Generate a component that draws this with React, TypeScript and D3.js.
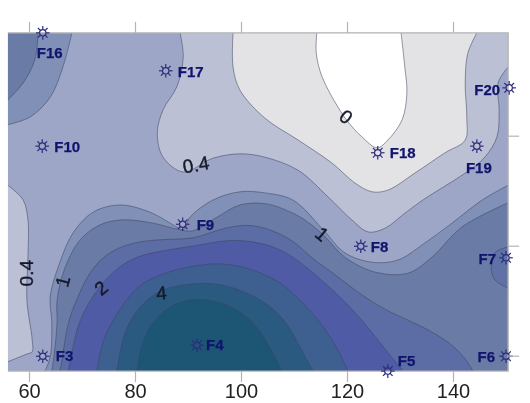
import React, { useEffect, useRef } from "react";
import * as d3 from "d3";

type Pt = [number, number];

const xTicks = [60, 80, 100, 120, 140];
const yTicks = [20, 40, 60];

// contour lines, in data units
const lineWhite: Pt[] = [[114.3, 78.7], [114.2, 75], [115.3, 70.7], [118.3, 65.2], [120.2, 62.5], [122.8, 59.8], [125.7, 57.8], [127.7, 59.2], [130.4, 62.9], [131.3, 67.8], [130.9, 72.5], [130.2, 78.7]];
const lineZero: Pt[] = [[98.5, 78.7], [98.5, 72.5], [99.8, 68.3], [104.5, 63.2], [110.8, 59.2], [117.2, 55], [121.5, 51.4], [124.7, 49.8], [127.7, 50.1], [132.8, 53.2], [138.5, 56.9], [142.3, 59.2], [142.6, 63.4], [142.3, 69.6], [142.8, 75], [144.5, 78.7]];
const lineLight: Pt[] = [[88.5, 78.7], [89.1, 74.3], [87.9, 68.9], [85.3, 64.7], [84.2, 60.5], [85.3, 56.1], [89.1, 53.4], [94.7, 55.9], [99.8, 56.7], [104.5, 56.1], [110.8, 53.7], [116.4, 48.9], [120.9, 44.7], [124, 42.5], [127.2, 43.2], [130.9, 45.9], [134.3, 48.3], [137.9, 50.5], [142.3, 53.2], [146, 56.1], [148.3, 59.8], [148.7, 64.7], [148.5, 69.6], [150.4, 72.5]];
const lineLeftLight: Pt[] = [[56, 51], [58.9, 48.3], [59.8, 44.7], [59.8, 37.9], [59.6, 30.1], [60.6, 22.9], [60.6, 20.7], [59.6, 20.3], [56, 18.9]];
const lineCornerOuter: Pt[] = [[68.1, 78.7], [66.4, 72.5], [64, 67], [60.2, 63.4], [56, 62]];
const lineCornerInner: Pt[] = [[61.7, 78.7], [61.1, 73.8], [58.9, 69.6], [56, 66.5]];
const lineBand1: Pt[] = [[63, 17.2], [64, 19.8], [64.3, 26], [64, 30.7], [65.8, 36.9], [68.3, 42.3], [72.1, 46.1], [77.2, 47.4], [82.8, 46.1], [87.9, 43.4], [89.1, 42.9], [90.4, 45.2], [94.7, 48.3], [99.8, 49.8], [104.5, 49.6], [109.8, 48.3], [115.5, 42.9], [119.6, 38.7], [124.7, 37], [129.6, 37.4], [134.7, 40.5], [139.8, 44.1], [145.5, 48.3], [150.4, 51]];
const lineBand2: Pt[] = [[64.3, 17.2], [64.7, 19.8], [65.3, 26], [65.3, 30.1], [66.8, 36], [69.6, 41], [73.4, 43.8], [77.7, 44.7], [83.4, 44.1], [88.5, 42.9], [90.9, 42.7], [95.5, 45.2], [99.8, 47.4], [104.9, 47.6], [109.8, 45.9], [112.6, 44.3], [115.8, 41.7], [119.6, 37.9], [125.3, 35.2], [131.5, 35], [136, 37.9], [141.7, 43.4], [150.4, 47.8]];
const lineBand3: Pt[] = [[65.8, 17.2], [66.2, 18.7], [67.2, 26], [69.1, 30.5], [71.5, 35.6], [75.3, 39.2], [80.9, 41], [88.5, 41.2], [91.7, 41.4], [95.5, 42.9], [101.1, 44.1], [106, 42.9], [110.6, 40.5], [113, 37.9], [117.2, 35.2], [122.1, 31.4], [127.7, 28], [132.8, 26], [137.9, 23.4], [141.7, 20.5], [143.8, 17.2]];
const lineBand4: Pt[] = [[67.4, 17.2], [68.1, 20.5], [69.2, 26], [71.9, 30.7], [74.7, 34.3], [79.1, 37.8], [84.2, 38.9], [88.5, 39.6], [92.3, 40.1], [96.6, 41], [101.1, 41], [106.8, 39.8], [110.6, 37.4], [113, 35.6], [117.4, 31.9], [122.5, 27], [126.8, 21.6], [130.6, 17.2]];
const lineBand5: Pt[] = [[72.8, 17.2], [73.8, 22.9], [76.6, 27.8], [80.4, 32.9], [84.7, 34.7], [88.5, 35.9], [92.3, 36.5], [96.6, 36.9], [101.7, 35.9], [106.8, 33.8], [109.2, 31.9], [113.6, 27.8], [117.4, 22.9], [120.2, 17.2]];
const lineBand6: Pt[] = [[76.6, 17.2], [77.5, 22.9], [79.6, 27.8], [84.2, 31.9], [88.5, 32.9], [94.7, 33.4], [100.4, 31.9], [105.5, 29.2], [108.7, 26], [111.1, 21.6], [113.6, 17.2]];
const lineBand7: Pt[] = [[80.4, 17.2], [80.9, 21], [82.8, 26], [87.2, 29.6], [91.7, 30.5], [97.4, 29.6], [102.3, 26.5], [105.5, 21.6], [107.7, 17.2]];
const lineF7: Pt[] = [[150.4, 39.8], [147.9, 38.7], [147.2, 36.1], [147.9, 33.8], [150.4, 32.3]];

// sampling sites
const siteNames = ["F16", "F17", "F10", "F18", "F19", "F20", "F3", "F4", "F9", "F8", "F7", "F6", "F5"];
const siteX = [62.6, 85.8, 62.5, 125.8, 144.5, 150.6, 62.6, 91.7, 89, 122.6, 150, 150, 127.7];
const siteY = [78.7, 71.8, 58.1, 56.9, 58.1, 68.7, 19.9, 21.9, 43.9, 39.9, 37.8, 19.9, 17.2];

// contour labels
const levelText = ["0.4", "0", "0.4", "1", "2", "4", "1"];
const levelX = [91.5, 119.8, 59.6, 66.4, 73.6, 85, 115.3];
const levelY = [54.7, 63.4, 35, 33.5, 32.3, 31.4, 42.1];

const xMin = 56, xMax = 150.4, yMin = 17.2, yMax = 78.7;
const x = d3.scaleLinear().domain([60, 140]).range([29, 453]);
const y = d3.scaleLinear().domain([20, 60]).range([355.7, 135.7]);

const sharp = d3.line<Pt>().x((d) => x(d[0])).y((d) => y(d[1])).curve(d3.curveCatmullRom.alpha(0.5));
const soft = d3.line<Pt>().x((d) => x(d[0])).y((d) => y(d[1])).curve(d3.curveBasis);

const TL: Pt = [xMin, yMax], TR: Pt = [xMax, yMax], BR: Pt = [xMax, yMin];

// painter's order: the base colour goes under everything, closing corners finish each polygon
const bands: { line: Pt[]; corners: Pt[]; fill: string; curve: typeof sharp }[] = [
  { line: lineLight, corners: [TR], fill: "#bcc0d4", curve: sharp },
  { line: lineZero, corners: [], fill: "#e3e3e5", curve: sharp },
  { line: lineWhite, corners: [], fill: "#ffffff", curve: sharp },
  { line: lineLeftLight, corners: [], fill: "#bcc0d4", curve: sharp },
  { line: lineCornerOuter, corners: [TL], fill: "#8190b6", curve: sharp },
  { line: lineCornerInner, corners: [TL], fill: "#6a7ca6", curve: sharp },
  { line: lineBand1, corners: [BR], fill: "#8190b6", curve: sharp },
  { line: lineBand2, corners: [BR], fill: "#6a7ca6", curve: sharp },
  { line: lineF7, corners: [], fill: "#5f71a5", curve: sharp },
  { line: lineBand3, corners: [], fill: "#5c6ca4", curve: soft },
  { line: lineBand4, corners: [], fill: "#4f5ca5", curve: soft },
  { line: lineBand5, corners: [], fill: "#3e6090", curve: soft },
  { line: lineBand6, corners: [], fill: "#2a5a80", curve: soft },
  { line: lineBand7, corners: [], fill: "#1d5674", curve: soft },
];

const polygon = (b: (typeof bands)[number]) =>
  b.curve(b.line) + b.corners.map((c) => `L${x(c[0])},${y(c[1])}`).join("") + "Z";

const labelPlace: Record<string, [number, number, "start" | "end" | "middle"]> = {
  F16: [7, 25, "middle"],
  F17: [12, 6, "start"],
  F10: [12, 6, "start"],
  F18: [12, 5, "start"],
  F19: [2, 27, "middle"],
  F20: [-9, 7, "end"],
  F3: [13, 5, "start"],
  F4: [9, 5, "start"],
  F9: [14, 6, "start"],
  F8: [10, 6, "start"],
  F7: [-10, 6, "end"],
  F6: [-11, 6, "end"],
  F5: [10, -5, "start"],
};

const levelAngle = [-10, 40, -90, -75, -40, -5, 40];
const rays = d3.range(8).map((i) => (i * Math.PI) / 4);

const Site = ({ cx, cy }: { cx: number; cy: number }) => (
  <g transform={`translate(${cx},${cy})`} stroke="#2d2c7c" strokeWidth={1.2} fill="none">
    <circle r={3.2} />
    {rays.map((a, i) => (
      <line key={i} x1={3.4 * Math.cos(a)} y1={3.4 * Math.sin(a)} x2={6.8 * Math.cos(a)} y2={6.8 * Math.sin(a)} />
    ))}
  </g>
);

export default function App() {
  const ref = useRef<SVGSVGElement>(null);

  useEffect(() => {
    const svg = d3.select(ref.current);
    svg.selectAll(".axis").remove();

    const style = (g: any) => {
      g.select(".domain").remove();
      g.selectAll("line").attr("stroke", "#b4b4b4").attr("stroke-width", 1.2);
      g.selectAll("text")
        .attr("fill", "#222")
        .style("font-family", "'Liberation Sans', Arial, sans-serif")
        .style("font-size", "20px");
    };

    svg.append("g").attr("class", "axis")
      .attr("transform", `translate(0,${y(yMin)})`)
      .call(d3.axisBottom(x).tickValues(xTicks).tickSize(11).tickPadding(2))
      .call(style);
    svg.append("g").attr("class", "axis")
      .attr("transform", `translate(0,${y(yMax)})`)
      .call(d3.axisTop(x).tickValues(xTicks).tickSize(11).tickFormat(() => ""))
      .call(style);
    svg.append("g").attr("class", "axis")
      .attr("transform", `translate(${x(xMax)},0)`)
      .call(d3.axisRight(y).tickValues(yTicks).tickSize(11).tickFormat(() => ""))
      .call(style);
  }, []);

  return (
    <svg
      ref={ref}
      width={530}
      height={403}
      style={{ position: "absolute", left: 0, top: 0, background: "#fff", filter: "blur(0.45px)" }}
    >
      <defs>
        <clipPath id="plot">
          <rect x={x(xMin)} y={y(yMax)} width={x(xMax) - x(xMin)} height={y(yMin) - y(yMax)} />
        </clipPath>
      </defs>
      <g clipPath="url(#plot)">
        <rect x={x(xMin)} y={y(yMax)} width={x(xMax) - x(xMin)} height={y(yMin) - y(yMax)} fill="#9da6c6" />
        {bands.map((b, i) => (
          <g key={i}>
            <path d={polygon(b)} fill={b.fill} />
            <path d={b.curve(b.line) ?? ""} fill="none" stroke="#3c4562" strokeOpacity={0.6} strokeWidth={0.9} />
          </g>
        ))}
      </g>
      <path
        d={`M${x(xMin)},${y(yMax)}H${x(xMax)}V${y(yMin)}H${x(xMin)}`}
        fill="none"
        stroke="#b4b4b4"
        strokeWidth={1.4}
      />
      {levelText.map((t, i) => (
        <text
          key={i}
          transform={`translate(${x(levelX[i])},${y(levelY[i])}) rotate(${levelAngle[i]})`}
          textAnchor="middle"
          dominantBaseline="central"
          fontFamily="'Liberation Sans', Arial, sans-serif"
          fontSize={19}
          fill="#15192a"
          stroke="#15192a"
          strokeWidth={0.4}
        >
          {t}
        </text>
      ))}
      {siteNames.map((name, i) => {
        const [dx, dy, anchor] = labelPlace[name];
        return (
          <g key={name}>
            <Site cx={x(siteX[i])} cy={y(siteY[i])} />
            <text
              x={x(siteX[i]) + dx}
              y={y(siteY[i]) + dy}
              textAnchor={anchor}
              fontFamily="'Liberation Sans', Arial, sans-serif"
              fontWeight="bold"
              fontSize={15}
              fill="#10146e"
              stroke="#10146e"
              strokeWidth={0.25}
            >
              {name}
            </text>
          </g>
        );
      })}
    </svg>
  );
}
